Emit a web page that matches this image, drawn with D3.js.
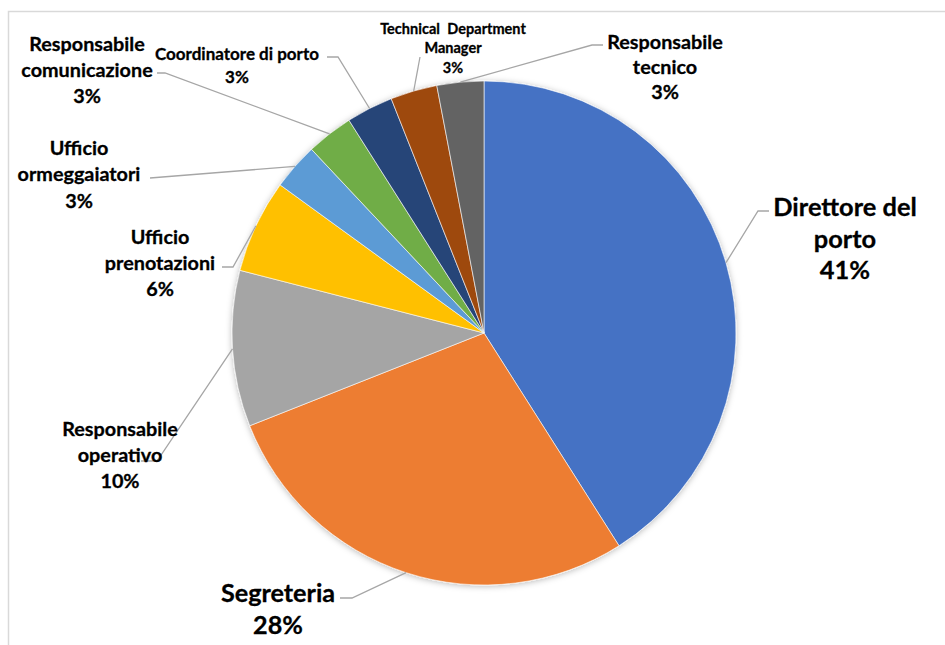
<!DOCTYPE html>
<html>
<head>
<meta charset="utf-8">
<script src="https://cdn.jsdelivr.net/npm/d3@7"></script>
<style>
  html, body { margin: 0; padding: 0; background: #fff; }
  svg { display: block; }
  text { font-family: Lato, "Open Sans", sans-serif; font-weight: 700; fill: #000;
         stroke: #000; stroke-width: 0.3px; }
</style>
</head>
<body>
<svg id="chart" width="945" height="645"></svg>
<script>
// Roles and their share of responses (%)
const categories = [
  "Direttore del porto",
  "Segreteria",
  "Responsabile operativo",
  "Ufficio prenotazioni",
  "Ufficio ormeggaiatori",
  "Responsabile comunicazione",
  "Coordinatore di porto",
  "Technical Department Manager",
  "Responsabile tecnico"
];
const values = [41, 28, 10, 6, 3, 3, 3, 3, 3];
const colors = ["#4472C4", "#ED7D31", "#A5A5A5", "#FFC000", "#5B9BD5",
                "#70AD47", "#264478", "#9E480E", "#636363"];

// Label placement: how each name wraps, its centre, line centres, font size,
// word spacing, and the leader line bend/end points.
const labelLayout = [
  { lines: ["Direttore del", "porto"], x: 845, ys: [206, 238, 269], size: 25.4, ws: 0, bend: [758, 211], end: [769, 211] },
  { lines: ["Segreteria"], x: 278, ys: [592, 624], size: 25.2, ws: 0, bend: [352, 598], end: [340, 598] },
  { lines: ["Responsabile", "operativo"], x: 120, ys: [428, 454, 480], size: 19.8, ws: 0, bend: [157, 461], end: [141, 461] },
  { lines: ["Ufficio", "prenotazioni"], x: 160, ys: [236, 262, 288], size: 19.8, ws: 0, bend: [233, 267], end: [222, 267] },
  { lines: ["Ufficio", "ormeggaiatori"], x: 79, ys: [147, 173, 200], size: 19.8, ws: 0, bend: [150, 178], end: [150, 178] },
  { lines: ["Responsabile", "comunicazione"], x: 87, ys: [43, 69, 95], size: 19.8, ws: 0, bend: [165, 73], end: [157, 73] },
  { lines: ["Coordinatore di porto"], x: 237, ys: [53, 76], size: 17, ws: 0, bend: [338, 57], end: [327, 57] },
  { lines: ["Technical Department", "Manager"], x: 453, ys: [28, 47, 67], size: 14.5, ws: 4, bend: [420, 57], end: [420, 57] },
  { lines: ["Responsabile", "tecnico"], x: 665, ys: [41, 66, 91], size: 19.8, ws: 0, bend: [592, 45], end: [603, 45] }
];

const svg = d3.select("#chart");
const cx = 484, cy = 333, radius = 252;

// Chart area frame
svg.append("rect")
  .attr("x", 8.5).attr("y", 11.5)
  .attr("width", 1000).attr("height", 1000)
  .attr("fill", "none")
  .attr("stroke", "#d9d9d9")
  .attr("stroke-width", 1.5);

// Soft outer shadow under the pie
const defs = svg.append("defs");
const f = defs.append("filter").attr("id", "pieShadow")
  .attr("x", "-10%").attr("y", "-10%").attr("width", "120%").attr("height", "120%");
f.append("feDropShadow")
  .attr("dx", 0).attr("dy", 1).attr("stdDeviation", 3)
  .attr("flood-color", "#000").attr("flood-opacity", 0.28);

const pie = d3.pie().sort(null).value(d => d)(values);
const arc = d3.arc().innerRadius(0).outerRadius(radius);

const g = svg.append("g").attr("transform", `translate(${cx},${cy})`);
g.append("g").attr("filter", "url(#pieShadow)")
  .selectAll("path")
  .data(pie)
  .join("path")
  .attr("d", arc)
  .attr("fill", (d, i) => colors[i])
  .attr("stroke", "#fff")
  .attr("stroke-width", 0.6);

// Leader lines from each slice's outer edge to its label
const leaders = svg.append("g");
pie.forEach((d, i) => {
  const L = labelLayout[i];
  const mid = (d.startAngle + d.endAngle) / 2;
  const p0 = [cx + radius * Math.sin(mid), cy - radius * Math.cos(mid)];
  leaders.append("polyline")
    .attr("points", [p0, L.bend, L.end].map(p => p.join(",")).join(" "))
    .attr("fill", "none")
    .attr("stroke", "#A6A6A6")
    .attr("stroke-width", 1.3);
});

// Data labels: category name lines followed by the percentage
const labels = svg.append("g");
pie.forEach((d, i) => {
  const L = labelLayout[i];
  const texts = L.lines.concat([`${values[i]}%`]);
  texts.forEach((t, k) => {
    labels.append("text")
      .attr("x", L.x)
      .attr("y", L.ys[k])
      .attr("text-anchor", "middle")
      .attr("dominant-baseline", "central")
      .style("font-size", L.size + "px")
      .style("word-spacing", L.ws + "px")
      .text(t);
  });
});
</script>
</body>
</html>
